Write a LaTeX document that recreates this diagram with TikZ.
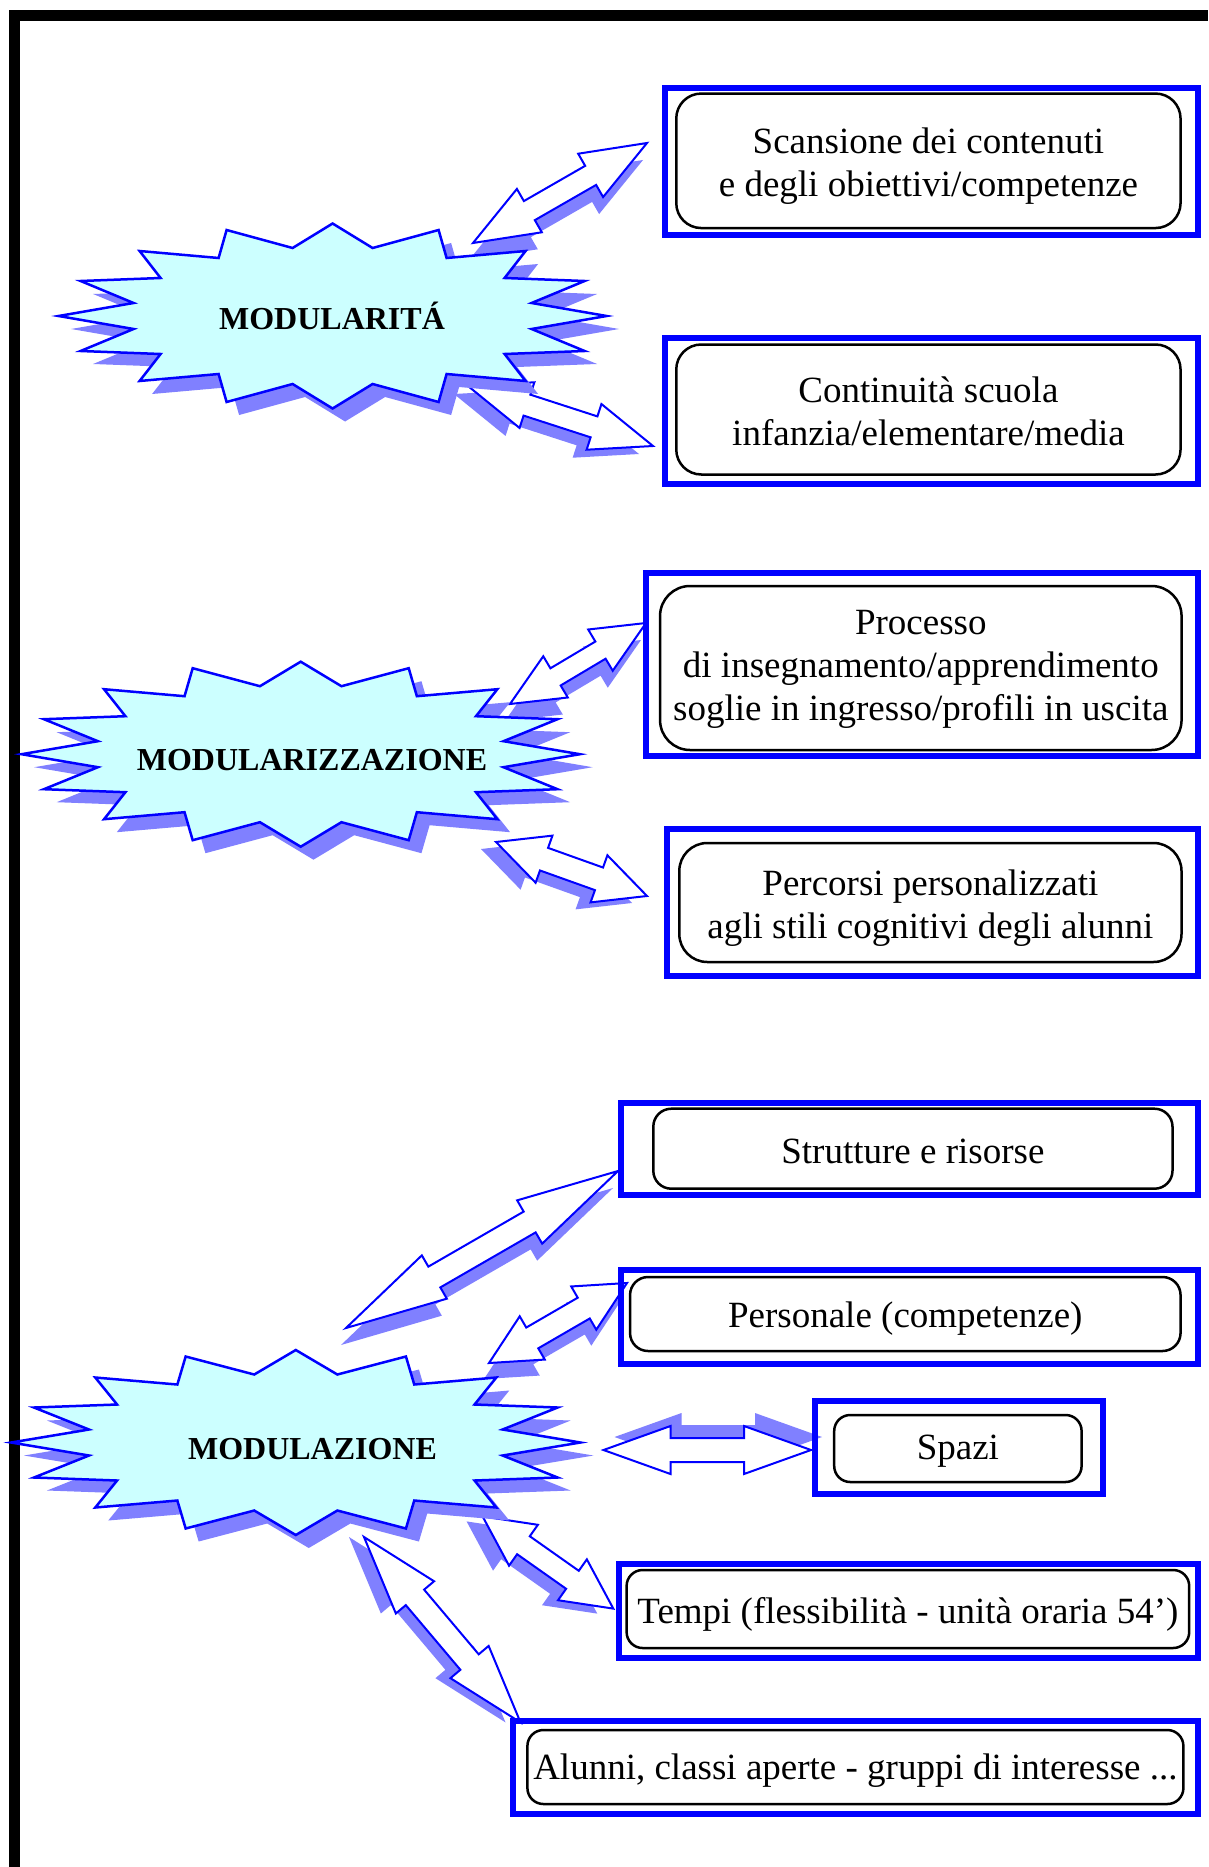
\documentclass[tikz,border=0pt]{standalone}
\usepackage{fontspec}
\setmainfont{Liberation Serif}
\usetikzlibrary{calc}
\definecolor{starfill}{HTML}{CCFFFF}
\definecolor{shadowblue}{HTML}{8080FF}
\definecolor{pureblue}{HTML}{0000FF}
\newcommand\mybxfont{\fontsize{37}{43}\selectfont}
\newcommand\mystfont{\fontsize{32}{38}\selectfont\bfseries}
\tikzset{
  outerbox/.style={draw=pureblue, line width=6pt, rectangle, inner sep=0pt},
  innerbox/.style={draw=black, line width=2.5pt, rectangle, rounded corners=#1, inner sep=0pt},
  innerbox/.default=20pt,
  boxtext/.style={inner sep=0pt, align=center, font=\mybxfont},
  starline/.style={draw=pureblue, fill=starfill, line width=2.5pt, line join=miter},
  starshadow/.style={fill=shadowblue},
  arrowline/.style={draw=pureblue, fill=white, line width=2pt, line join=miter},
  starlabel/.style={font=\mystfont, inner sep=0pt, anchor=base},
}
\def\mystarpath{(0,-92.5) -- (40,-68) -- (106,-86) -- (114,-58) -- (193,-65) -- (172,-38) -- (252,-35) -- (199,-13) -- (274,0) -- (199,13) -- (252,35) -- (172,38) -- (193,65) -- (114,58) -- (106,86) -- (40,68) -- (0,92.5) -- (-40,68) -- (-106,86) -- (-114,58) -- (-193,65) -- (-172,38) -- (-252,35) -- (-199,13) -- (-274,0) -- (-199,-13) -- (-252,-35) -- (-172,-38) -- (-193,-65) -- (-114,-58) -- (-106,-86) -- (-40,-68) -- cycle}
% #1 name (uses #1-s, #1-t), #2 head length, #3 head half width, #4 shaft half width, #5 shadow shift
\newcommand\dblarrow[5]{%
  \coordinate (#1-b) at ($(#1-s)!#2!(#1-t)$);
  \coordinate (#1-e) at ($(#1-t)!#2!(#1-s)$);
  \coordinate (#1-p1) at ($(#1-b)!#3!90:(#1-t)$);
  \coordinate (#1-p2) at ($(#1-b)!#4!90:(#1-t)$);
  \coordinate (#1-p3) at ($(#1-e)!#4!90:(#1-t)$);
  \coordinate (#1-p4) at ($(#1-e)!#3!90:(#1-t)$);
  \coordinate (#1-p5) at ($(#1-e)!#3!-90:(#1-t)$);
  \coordinate (#1-p6) at ($(#1-e)!#4!-90:(#1-t)$);
  \coordinate (#1-p7) at ($(#1-b)!#4!-90:(#1-t)$);
  \coordinate (#1-p8) at ($(#1-b)!#3!-90:(#1-t)$);
  \fill[shadowblue, transform canvas={shift={#5}}] (#1-s) -- (#1-p1) -- (#1-p2) -- (#1-p3) -- (#1-p4) -- (#1-t) -- (#1-p5) -- (#1-p6) -- (#1-p7) -- (#1-p8) -- cycle;
  \draw[arrowline] (#1-s) -- (#1-p1) -- (#1-p2) -- (#1-p3) -- (#1-p4) -- (#1-t) -- (#1-p5) -- (#1-p6) -- (#1-p7) -- (#1-p8) -- cycle;
}
\begin{document}
\begin{tikzpicture}[x=1pt,y=-1pt]
\useasboundingbox[fill=white] (0,0) rectangle (1208,1867);
% frame
\fill[black] (9,10) rectangle (1208,21);
\fill[black] (9,10) rectangle (20,1867);

% arrows
\coordinate (a1-s) at (473,243);   \coordinate (a1-t) at (647,143);
\dblarrow{a1}{65pt}{25pt}{11pt}{(-4,17)}
\coordinate (a2-s) at (468,386);   \coordinate (a2-t) at (653,446);
\dblarrow{a2}{62pt}{24pt}{11pt}{(-14,8)}
\coordinate (a3-s) at (510,704);   \coordinate (a3-t) at (646,623);
\dblarrow{a3}{53pt}{24pt}{10pt}{(-5,17)}
\coordinate (a4-s) at (496,842);   \coordinate (a4-t) at (647,896);
\dblarrow{a4}{51pt}{25pt}{12pt}{(-15,7)}
\coordinate (a5-s) at (346,1328);  \coordinate (a5-t) at (618,1171);
\dblarrow{a5}{102pt}{25pt}{12pt}{(-5,17)}
\coordinate (a6-s) at (489,1363);  \coordinate (a6-t) at (627,1283);
\dblarrow{a6}{50pt}{25pt}{12pt}{(-5,16)}
\coordinate (a7-s) at (603.5,1450); \coordinate (a7-t) at (811,1450);
\dblarrow{a7}{67pt}{24pt}{12pt}{(11,-13)}
\coordinate (a8-s) at (482.6,1516.4); \coordinate (a8-t) at (613.3,1608.6);
\dblarrow{a8}{50pt}{25pt}{11pt}{(-16,5)}
\coordinate (a9-s) at (364,1537);  \coordinate (a9-t) at (520.5,1722.4);
\dblarrow{a9}{79pt}{25pt}{12pt}{(-15,0)}

% stars
\begin{scope}[shift={(332.6,316)}]
  \fill[starshadow, shift={(12.5,13)}] \mystarpath;
  \draw[starline] \mystarpath;
\end{scope}
\begin{scope}[shift={(300.7,754.2)}, xscale=1.019]
  \fill[starshadow, shift={(12.5,13)}] \mystarpath;
  \draw[starline] \mystarpath;
\end{scope}
\begin{scope}[shift={(295.8,1442.5)}, xscale=1.039]
  \fill[starshadow, shift={(12.5,13)}] \mystarpath;
  \draw[starline] \mystarpath;
\end{scope}
\node[starlabel] (m1) at (332,329.3) {MODULARITÁ};
\node[starlabel] (m2) at (312,770.7) {MODULARIZZAZIONE};
\node[starlabel] (m3) at (312.5,1459) {MODULAZIONE};

% boxes
\node[outerbox, minimum width=532.7pt, minimum height=146.5pt] (o1) at (931.7,161.3) {};
\node[innerbox=25pt, minimum width=504.3pt, minimum height=134.5pt] (b1) at (928.4,160.8) {};
\node[boxtext] (t1) at ([yshift=-5pt]b1.center) {Scansione dei contenuti\\e degli obiettivi/competenze};

\node[outerbox, minimum width=532.7pt, minimum height=146pt] (o2) at (931.7,411) {};
\node[innerbox=25pt, minimum width=504.3pt, minimum height=130pt] (b2) at (928.4,409.5) {};
\node[boxtext] (t2) at ([yshift=-2pt]b2.center) {Continuità scuola\\infanzia/elementare/media};

\node[outerbox, minimum width=551.7pt, minimum height=183.5pt] (o3) at (922.2,664.3) {};
\node[innerbox=30pt, minimum width=521.5pt, minimum height=164pt] (b3) at (920.8,668) {};
\node[boxtext] (t3) at ([yshift=-1.5pt]b3.center) {Processo\\di insegnamento/apprendimento\\soglie in ingresso/profili in uscita};

\node[outerbox, minimum width=531.3pt, minimum height=147pt] (o4) at (932.4,902.5) {};
\node[innerbox=28pt, minimum width=502.2pt, minimum height=119pt] (b4) at (930.4,902.5) {};
\node[boxtext] (t4) at ([yshift=-6pt]b4.center) {Percorsi personalizzati\\agli stili cognitivi degli alunni};

\node[outerbox, minimum width=577.2pt, minimum height=92.5pt] (o5) at (909.4,1148.8) {};
\node[innerbox=18pt, minimum width=519.2pt, minimum height=80pt] (b5) at (912.9,1148.7) {};
\node[boxtext] (t5) at ([yshift=-3pt]b5.center) {Strutture e risorse};

\node[outerbox, minimum width=577.2pt, minimum height=94pt] (o6) at (909.4,1317) {};
\node[innerbox=18pt, minimum width=550.5pt, minimum height=74pt] (b6) at (905.3,1314) {};
\node[boxtext] (t6) at ([yshift=-5pt]b6.center) {Personale (competenze)};

\node[outerbox, minimum width=288.2pt, minimum height=93pt] (o7) at (959.3,1447.5) {};
\node[innerbox=16pt, minimum width=247.4pt, minimum height=67pt] (b7) at (957.9,1448.5) {};
\node[boxtext] (t7) at ([yshift=-3pt]b7.center) {Spazi};

\node[outerbox, minimum width=579pt, minimum height=93.5pt] (o8) at (908.5,1610.8) {};
\node[innerbox=16pt, minimum width=562.6pt, minimum height=78pt] (b8) at (907.9,1609) {};
\node[boxtext] (t8) at ([yshift=-5pt]b8.center) {Tempi (flessibilità - unità oraria 54’)};

\node[outerbox, minimum width=684.8pt, minimum height=93pt] (o9) at (855.6,1767.5) {};
\node[innerbox=16pt, minimum width=656pt, minimum height=74pt] (b9) at (855.4,1767) {};
\node[boxtext] (t9) at ([yshift=-4pt]b9.center) {Alunni, classi aperte - gruppi di interesse ...};
\end{tikzpicture}
\end{document}
